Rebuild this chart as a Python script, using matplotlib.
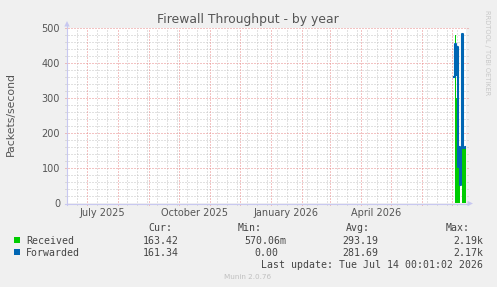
import numpy as np
import matplotlib
matplotlib.use('Agg')
import matplotlib.pyplot as plt
from matplotlib.lines import Line2D
from matplotlib.patches import Polygon, Rectangle
from matplotlib.transforms import blended_transform_factory

W, H = 497, 287

# Dados (amostras diarias, Julho 2026)
dates = ['2026-07-03', '2026-07-04', '2026-07-05', '2026-07-06', '2026-07-07', '2026-07-08',
         '2026-07-09', '2026-07-10', '2026-07-11', '2026-07-12', '2026-07-13', '2026-07-14']
received = [np.nan, 480, 300, 300, 300, 104, 0, 0, 155, 155, 155, 163]
forwarded = [361, 454, 365, 447, 104, 160, 52, 157, 483, 157, 157, 161]

month_starts = ['2025-07-01', '2025-08-01', '2025-09-01', '2025-10-01', '2025-11-01', '2025-12-01',
                '2026-01-01', '2026-02-01', '2026-03-01', '2026-04-01', '2026-05-01', '2026-06-01',
                '2026-07-01']
month_labels = ['July 2025', 'October 2025', 'January 2026', 'April 2026']
label_months = ['2025-07-01', '2025-10-01', '2026-01-01', '2026-04-01']

legend_names = ['Received', 'Forwarded']
cur = ['163.42', '161.34']
vmin = ['570.06m', '0.00']
avg = ['293.19', '281.69']
vmax = ['2.19k', '2.17k']
colors = ['#00CC00', '#0066B3']

plt.rcParams['lines.scale_dashes'] = False


def day(s):
    return (np.datetime64(s) - np.datetime64('1970-01-01')).astype(int)


def fx(px):
    return px / W


def fy(py):
    return 1 - py / H


x = np.array([day(d) for d in dates], dtype=float)
x_ed = np.append(x, x[-1] + 1)
rec = np.append(received, received[-1])
fwd = np.append(forwarded, forwarded[-1])

fig = plt.figure(figsize=(W / 100, H / 100), dpi=100, facecolor='#F0F0F0')
ax = fig.add_axes([fx(67), fy(203), (466 - 67) / W, (203 - 28) / H])
ax.set_facecolor('white')
for s in ax.spines.values():
    s.set_visible(False)

x0 = day('2025-07-01') - 20.3
ax.set_xlim(x0, x0 + 399)
ax.set_ylim(0, 500)

# grade pontilhada
ext_x = 2 / 399
ext_y = 2 / 175
month_days = [day(m) for m in month_starts]
minor_x = [d for d in range(int(x0) + 1, int(x0 + 399) + 1)
           if d % 10 == 0 and all(abs(d - md) > 1 for md in month_days)]
dot = (0, (0.72, 1.44))
grid_kw = dict(lw=0.72, ls=dot, clip_on=False)
for d in minor_x:
    ax.plot([d, d], [-ext_y, 1], transform=ax.get_xaxis_transform(), color='#C4C4C4',
            zorder=0, **grid_kw)
for v in range(20, 501, 20):
    if v % 100:
        ax.plot([-ext_x, 1 + ext_x], [v, v], transform=ax.get_yaxis_transform(), color='#C4C4C4',
                zorder=0, **grid_kw)
for d in month_days:
    ax.plot([d, d], [-ext_y, 1], transform=ax.get_xaxis_transform(), color='#E88888',
            zorder=0.5, **grid_kw)
for v in range(100, 501, 100):
    ax.plot([-ext_x, 1 + ext_x], [v, v], transform=ax.get_yaxis_transform(), color='#E88888',
            zorder=0.5, **grid_kw)

# series
ax.fill_between(x_ed, 0, rec, step='post', color=colors[0], lw=0, zorder=2)
ax.plot(x_ed, fwd, drawstyle='steps-post', color=colors[1], lw=1.5, zorder=3)

ax.set_yticks(range(0, 501, 100))
ax.set_yticklabels([str(v) for v in range(0, 501, 100)])
ax.tick_params(axis='y', length=0, pad=5, labelsize=7, labelcolor='#555555')
ax.set_xticks([])

trans = blended_transform_factory(ax.transData, fig.transFigure)
for lab, m in zip(month_labels, label_months):
    ax.text(day(m) + 15, fy(216), lab, transform=trans,
            ha='center', va='baseline', fontsize=7, color='#555555')

# eixos
ax_col = '#C8C8F0'
fig.add_artist(Line2D([fx(67), fx(67)], [fy(205), fy(25)], color=ax_col, lw=0.8))
fig.add_artist(Line2D([fx(64.5), fx(469)], [fy(203.5), fy(203.5)], color=ax_col, lw=0.8))
fig.add_artist(Polygon([[fx(67), fy(21)], [fx(64.3), fy(26.5)], [fx(69.7), fy(26.5)]],
                       closed=True, transform=fig.transFigure, color=ax_col, lw=0))
fig.add_artist(Polygon([[fx(473), fy(203.5)], [fx(467.5), fy(200.8)], [fx(467.5), fy(206.2)]],
                       closed=True, transform=fig.transFigure, color=ax_col, lw=0))

# textos
fig.text(fx(248), fy(23.5), 'Firewall Throughput - by year', ha='center', va='baseline',
         fontsize=8.9, color='#555555')
fig.text(fx(10.5), fy(114), 'Packets/second', rotation=90, ha='center', va='center',
         fontsize=7.8, color='#555555')
fig.text(fx(487), fy(53), 'RRDTOOL / TOBI OETIKER', rotation=270, ha='center', va='center',
         fontsize=4.8, color='#C8C8C8')
fig.text(fx(248), fy(279), 'Munin 2.0.76', ha='center', va='baseline', fontsize=5.2, color='#C0C0C0')

mono = 'DejaVu Sans Mono'
tc = '#444444'
fs = 7.1
for txt, xr in zip(['Cur:', 'Min:', 'Avg:', 'Max:'], [172.3, 262, 370, 470]):
    fig.text(fx(xr), fy(231), txt, ha='right', va='baseline', family=mono, fontsize=fs, color=tc)

rows_y = [243.5, 255.7]
for i in range(2):
    y = rows_y[i]
    fig.add_artist(Rectangle((fx(14), fy(y - 0.5)), 6 / W, 6 / H, transform=fig.transFigure,
                             color=colors[i], lw=0))
    fig.text(fx(26), fy(y), legend_names[i], ha='left', va='baseline', family=mono, fontsize=fs, color=tc)
    fig.text(fx(179), fy(y), cur[i], ha='right', va='baseline', family=mono, fontsize=fs, color=tc)
    mx = 286 if vmin[i].endswith('m') else 278
    fig.text(fx(mx), fy(y), vmin[i], ha='right', va='baseline', family=mono, fontsize=fs, color=tc)
    fig.text(fx(378), fy(y), avg[i], ha='right', va='baseline', family=mono, fontsize=fs, color=tc)
    fig.text(fx(483), fy(y), vmax[i], ha='right', va='baseline', family=mono, fontsize=fs, color=tc)

fig.text(fx(483), fy(267.7), 'Last update: Tue Jul 14 00:01:02 2026', ha='right', va='baseline',
         family=mono, fontsize=fs, color=tc)

fig.savefig('out.png', dpi=100, facecolor=fig.get_facecolor())
